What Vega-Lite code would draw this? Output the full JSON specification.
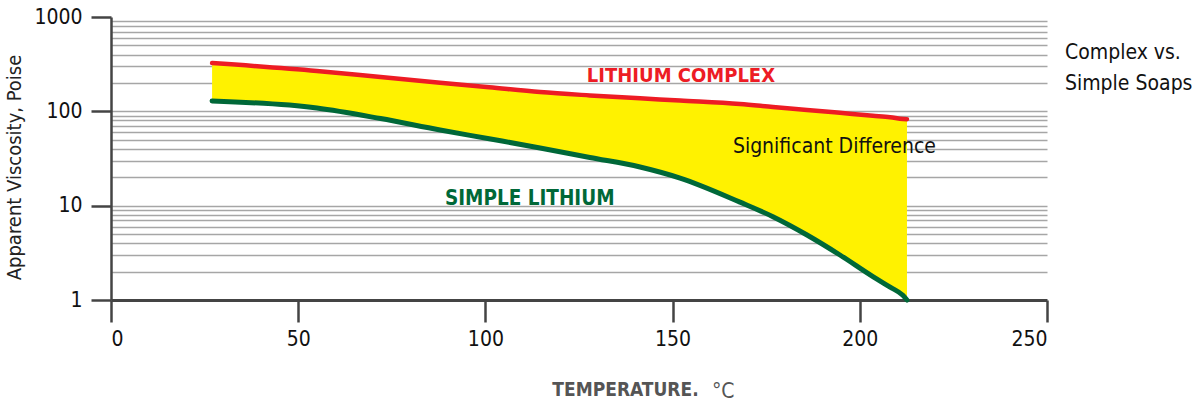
{
  "$schema": "https://vega.github.io/schema/vega-lite/v6.json",
  "width": 936,
  "height": 283,
  "autosize": {"type": "none"},
  "padding": {"left": 111, "top": 17, "right": 145, "bottom": 103},
  "background": "white",
  "config": {"view": {"stroke": null}, "font": "DejaVu Sans Condensed, sans-serif"},
  "datasets": {
    "curves": [
      {"t": 27, "complex": 325, "simple": 128.8},
      {"t": 55, "complex": 268, "simple": 108.5},
      {"t": 72, "complex": 230.7, "simple": 83.8},
      {"t": 87.9, "complex": 201, "simple": 63.4},
      {"t": 101, "complex": 180, "simple": 51.2},
      {"t": 114.6, "complex": 160, "simple": 40.9},
      {"t": 127.9, "complex": 147.5, "simple": 32.4},
      {"t": 141.3, "complex": 137.4, "simple": 25.7},
      {"t": 152, "complex": 130, "simple": 19.6},
      {"t": 168, "complex": 119.4, "simple": 10.9},
      {"t": 176.8, "complex": 111.2, "simple": 7.64},
      {"t": 185.9, "complex": 103.6, "simple": 4.89},
      {"t": 194.7, "complex": 96.5, "simple": 3.0},
      {"t": 203.5, "complex": 89.9, "simple": 1.77},
      {"t": 208.1, "complex": 86.7, "simple": 1.37},
      {"t": 211.5, "complex": 83, "simple": 1.12},
      {"t": 212.6, "complex": 82.5, "simple": 1.0}
    ],
    "notes": [
      {"t": 166.1, "v": 41.9, "label": "Significant Difference"},
      {"t": 254.8, "v": 415, "label": "Complex vs."},
      {"t": 254.8, "v": 195, "label": "Simple Soaps"}
    ],
    "complexLabel": [{"t": 127.1, "v": 237, "label": "LITHIUM COMPLEX"}],
    "simpleLabel": [{"t": 89.2, "v": 11.8, "label": "SIMPLE LITHIUM"}],
    "unitLabel": [{"t": 160.5, "v": 0.106, "label": "°C"}]
  },
  "layer": [
    {
      "data": {"name": "curves"},
      "mark": {"type": "area", "color": "#fff200", "interpolate": "monotone"},
      "encoding": {
        "x": {
          "field": "t", "type": "quantitative",
          "scale": {"domain": [0, 250], "nice": false, "zero": false},
          "axis": {
            "values": [0, 50, 100, 150, 200, 250],
            "grid": false,
            "tickSize": 22, "tickWidth": 2.5, "tickColor": "#444",
            "domainColor": "#444", "domainWidth": 3,
            "labelFontSize": 21, "labelColor": "#111", "labelPadding": 6,
            "title": "TEMPERATURE.", "titleFontSize": 19, "titleFontWeight": "bold",
            "titleColor": "#555", "titlePadding": 31, "titleX": 514
          }
        },
        "y": {
          "field": "complex", "type": "quantitative",
          "scale": {"type": "log", "domain": [1, 1000], "nice": false},
          "axis": {
            "values": [1, 2, 3, 4, 5, 6, 7, 8, 9, 10, 20, 30, 40, 50, 60, 70, 80, 90, 100, 200, 300, 400, 500, 600, 700, 800, 900, 1000],
            "format": "d",
            "labelExpr": "indexof([1,10,100,1000], datum.value) >= 0 ? datum.label : ''",
            "labelOverlap": false,
            "labelFontSize": 21, "labelColor": "#111", "labelPadding": 9,
            "tickSize": {"condition": {"test": "indexof([1,10,100,1000], datum.value) >= 0", "value": 20}, "value": 0},
            "tickWidth": 2.5, "tickColor": "#444",
            "domainColor": "#444", "domainWidth": 2.5,
            "grid": true, "gridColor": "#a6a6a6", "gridWidth": 1.5,
            "gridOpacity": {"condition": {"test": "datum.value == 1 || datum.value == 1000", "value": 0}, "value": 1},
            "title": "Apparent Viscosity, Poise", "titleFontSize": 20, "titleFontWeight": "normal",
            "titleColor": "#222", "titlePadding": 9, "titleY": 150
          }
        },
        "y2": {"field": "simple"}
      }
    },
    {
      "data": {"name": "curves"},
      "mark": {"type": "line", "color": "#006838", "strokeWidth": 5, "strokeCap": "round", "interpolate": "monotone"},
      "encoding": {
        "x": {"field": "t", "type": "quantitative", "scale": {"domain": [0, 250], "nice": false, "zero": false}},
        "y": {"field": "simple", "type": "quantitative", "scale": {"type": "log", "domain": [1, 1000], "nice": false}}
      }
    },
    {
      "data": {"name": "curves"},
      "mark": {"type": "line", "color": "#ed1c24", "strokeWidth": 4.5, "strokeCap": "round", "interpolate": "monotone"},
      "encoding": {
        "x": {"field": "t", "type": "quantitative", "scale": {"domain": [0, 250], "nice": false, "zero": false}},
        "y": {"field": "complex", "type": "quantitative", "scale": {"type": "log", "domain": [1, 1000], "nice": false}}
      }
    },
    {
      "mark": {"type": "rule", "color": "#444", "strokeWidth": 2.5},
      "encoding": {"x": {"datum": 250, "type": "quantitative", "scale": {"domain": [0, 250], "nice": false, "zero": false}}}
    },
    {
      "data": {"name": "complexLabel"},
      "mark": {"type": "text", "align": "left", "baseline": "middle", "fontSize": 20, "fontWeight": "bold", "color": "#ed1c24"},
      "encoding": {
        "x": {"field": "t", "type": "quantitative", "scale": {"domain": [0, 250], "nice": false, "zero": false}},
        "y": {"field": "v", "type": "quantitative", "scale": {"type": "log", "domain": [1, 1000], "nice": false}},
        "text": {"field": "label"}
      }
    },
    {
      "data": {"name": "simpleLabel"},
      "mark": {"type": "text", "align": "left", "baseline": "middle", "fontSize": 20.5, "fontWeight": "bold", "color": "#006838"},
      "encoding": {
        "x": {"field": "t", "type": "quantitative", "scale": {"domain": [0, 250], "nice": false, "zero": false}},
        "y": {"field": "v", "type": "quantitative", "scale": {"type": "log", "domain": [1, 1000], "nice": false}},
        "text": {"field": "label"}
      }
    },
    {
      "data": {"name": "notes"},
      "mark": {"type": "text", "align": "left", "baseline": "middle", "fontSize": 21, "color": "#111"},
      "encoding": {
        "x": {"field": "t", "type": "quantitative", "scale": {"domain": [0, 250], "nice": false, "zero": false}},
        "y": {"field": "v", "type": "quantitative", "scale": {"type": "log", "domain": [1, 1000], "nice": false}},
        "text": {"field": "label"}
      }
    },
    {
      "data": {"name": "unitLabel"},
      "mark": {"type": "text", "align": "left", "baseline": "middle", "fontSize": 21, "color": "#555"},
      "encoding": {
        "x": {"field": "t", "type": "quantitative", "scale": {"domain": [0, 250], "nice": false, "zero": false}},
        "y": {"field": "v", "type": "quantitative", "scale": {"type": "log", "domain": [1, 1000], "nice": false}},
        "text": {"field": "label"}
      }
    }
  ]
}
